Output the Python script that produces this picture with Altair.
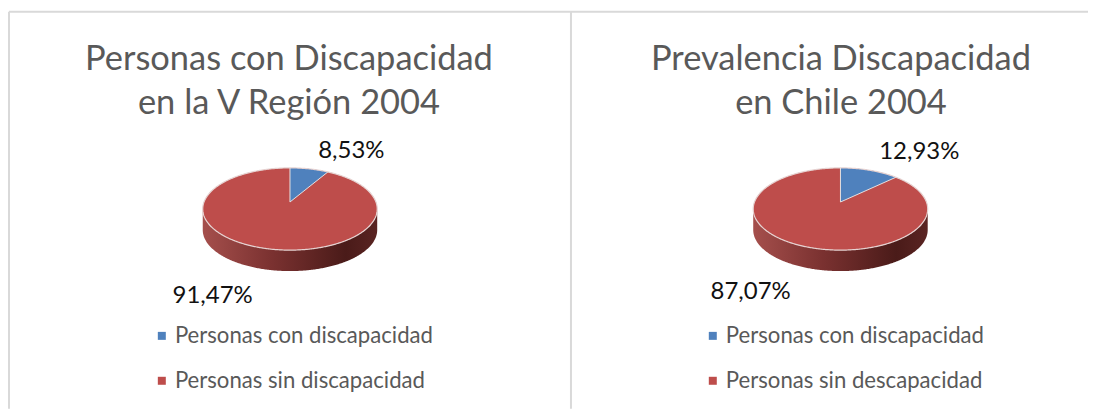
import altair as alt
import numpy as np
import pandas as pd

TITLES_1 = ["Personas con Discapacidad", "en la V Región 2004"]
TITLES_2 = ["Prevalencia Discapacidad", "en Chile 2004"]
CATS_1 = ["Personas con discapacidad", "Personas sin discapacidad"]
CATS_2 = ["Personas con discapacidad", "Personas sin descapacidad"]
SHARES_1 = [8.53, 91.47]
SHARES_2 = [12.93, 87.07]
COLORS = ["#4F81BD", "#BE4D4B"]
FONT = "Lato"
H = 401
A, B, APEX, DEPTH = 87.4, 41.2, 7.0, 21.0


def pct(v):
    return f"{v:.2f}".replace(".", ",") + "%"


def panel(titles, cats, shares, W, cx, title_x, label_pos, legend_x):
    cy = 201.0
    xs_scale = alt.Scale(domain=[-cx, W - cx], range=[0, W], nice=False, zero=False)
    ys_scale = alt.Scale(domain=[-(H - cy), cy], range=[H, 0], nice=False, zero=False)
    xe = alt.X("x:Q", scale=xs_scale, axis=None)
    ye = alt.Y("y:Q", scale=ys_scale, axis=None)
    y2e = alt.Y2("y2:Q")
    color = alt.Color(
        "cat:N",
        scale=alt.Scale(domain=cats, range=COLORS),
        legend=alt.Legend(
            title=None, orient="none", legendX=legend_x, legendY=317, padding=0,
            symbolType="square", symbolSize=64, symbolStrokeWidth=0,
            labelFont=FONT, labelFontSize=22.2, labelColor="#595959", labelLimit=400,
            rowPadding=22, labelOffset=2, symbolOpacity=1,
        ),
    )

    u = np.linspace(-1, 1, 241)
    xx = A * np.sin(u * np.pi / 2)
    arc = B * np.cos(u * np.pi / 2)
    full = pd.DataFrame({"x": xx, "y": arc, "y2": -arc, "cat": cats[1]})
    side = pd.DataFrame({"x": xx, "y": -arc, "y2": -arc - DEPTH})

    phi = shares[0] / 100 * 2 * np.pi
    e = APEX / B
    t = -e * np.cos(phi) + np.sqrt(e**2 * np.cos(phi) ** 2 + 1 - e**2)
    x_end = A * np.sin(phi) * t
    y_end = APEX + B * np.cos(phi) * t
    wx = np.linspace(0, x_end, 40)
    wedge = pd.DataFrame({
        "x": wx,
        "y": B * np.sqrt(1 - (wx / A) ** 2),
        "y2": APEX + wx * (y_end - APEX) / x_end,
        "cat": cats[0],
    })
    edge = pd.DataFrame({
        "x": np.r_[0, 0, x_end],
        "y": np.r_[B, APEX, y_end],
        "o": [0, 1, 2],
    })
    rim = pd.DataFrame({
        "x": np.r_[xx, xx[::-1]],
        "y": np.r_[arc, -arc[::-1]],
        "o": np.arange(len(xx) * 2),
    })

    gradient = alt.Gradient(
        gradient="linear", x1=0, x2=1, y1=0, y2=0,
        stops=[
            alt.GradientStop(color="#A54F4C", offset=0),
            alt.GradientStop(color="#7A3130", offset=0.4),
            alt.GradientStop(color="#4A1B19", offset=0.82),
            alt.GradientStop(color="#5A2422", offset=1),
        ],
    )
    layers = [
        alt.Chart(side).mark_area(color=gradient).encode(x=xe, y=ye, y2=y2e),
        alt.Chart(full).mark_area().encode(x=xe, y=ye, y2=y2e, color=color),
        alt.Chart(wedge).mark_area().encode(x=xe, y=ye, y2=y2e, color=color),
        alt.Chart(rim).mark_line(color="#E6D3D2", strokeWidth=1.2).encode(x=xe, y=ye, order="o:Q"),
        alt.Chart(edge).mark_line(color="#E6E0E0", strokeWidth=1).encode(x=xe, y=ye, order="o:Q"),
    ]
    for text, y in zip(titles, [60, 104]):
        layers.append(
            alt.Chart(pd.DataFrame({"t": [text]}))
            .mark_text(font=FONT, fontSize=34.5, color="#595959", align="center", baseline="middle")
            .encode(text="t:N", x=alt.value(title_x), y=alt.value(y - 8))
        )
    for v, (lx, ly) in zip(shares, label_pos):
        layers.append(
            alt.Chart(pd.DataFrame({"t": [pct(v)]}))
            .mark_text(font=FONT, fontSize=24, color="#111111", align="center", baseline="middle")
            .encode(text="t:N", x=alt.value(lx), y=alt.value(ly))
        )
    frame = alt.Chart(pd.DataFrame({"a": [0]})).mark_rule(color="#D9D9D9", strokeWidth=2)
    layers.append(frame.encode(x=alt.value(0), x2=alt.value(W), y=alt.value(3.5)))
    layers.append(frame.encode(x=alt.value(0), y=alt.value(3.5), y2=alt.value(H)))
    return alt.layer(*layers).properties(width=W, height=H)


left = panel(TITLES_1, CATS_1, SHARES_1, 563, 281.5, 280.5, [(343, 143), (204, 288)], 142)
right = panel(TITLES_2, CATS_2, SHARES_2, 518, 270.0, 270.5, [(349, 144), (180, 284)], 131)

chart = (
    alt.hconcat(left, right, spacing=0, padding=0, bounds="flush")
    .resolve_scale(color="independent", x="independent", y="independent")
    .configure_view(stroke=None)
    .configure_concat(spacing=0)
)
chart.save("out.html", embed_options={"renderer": "svg", "actions": False})
